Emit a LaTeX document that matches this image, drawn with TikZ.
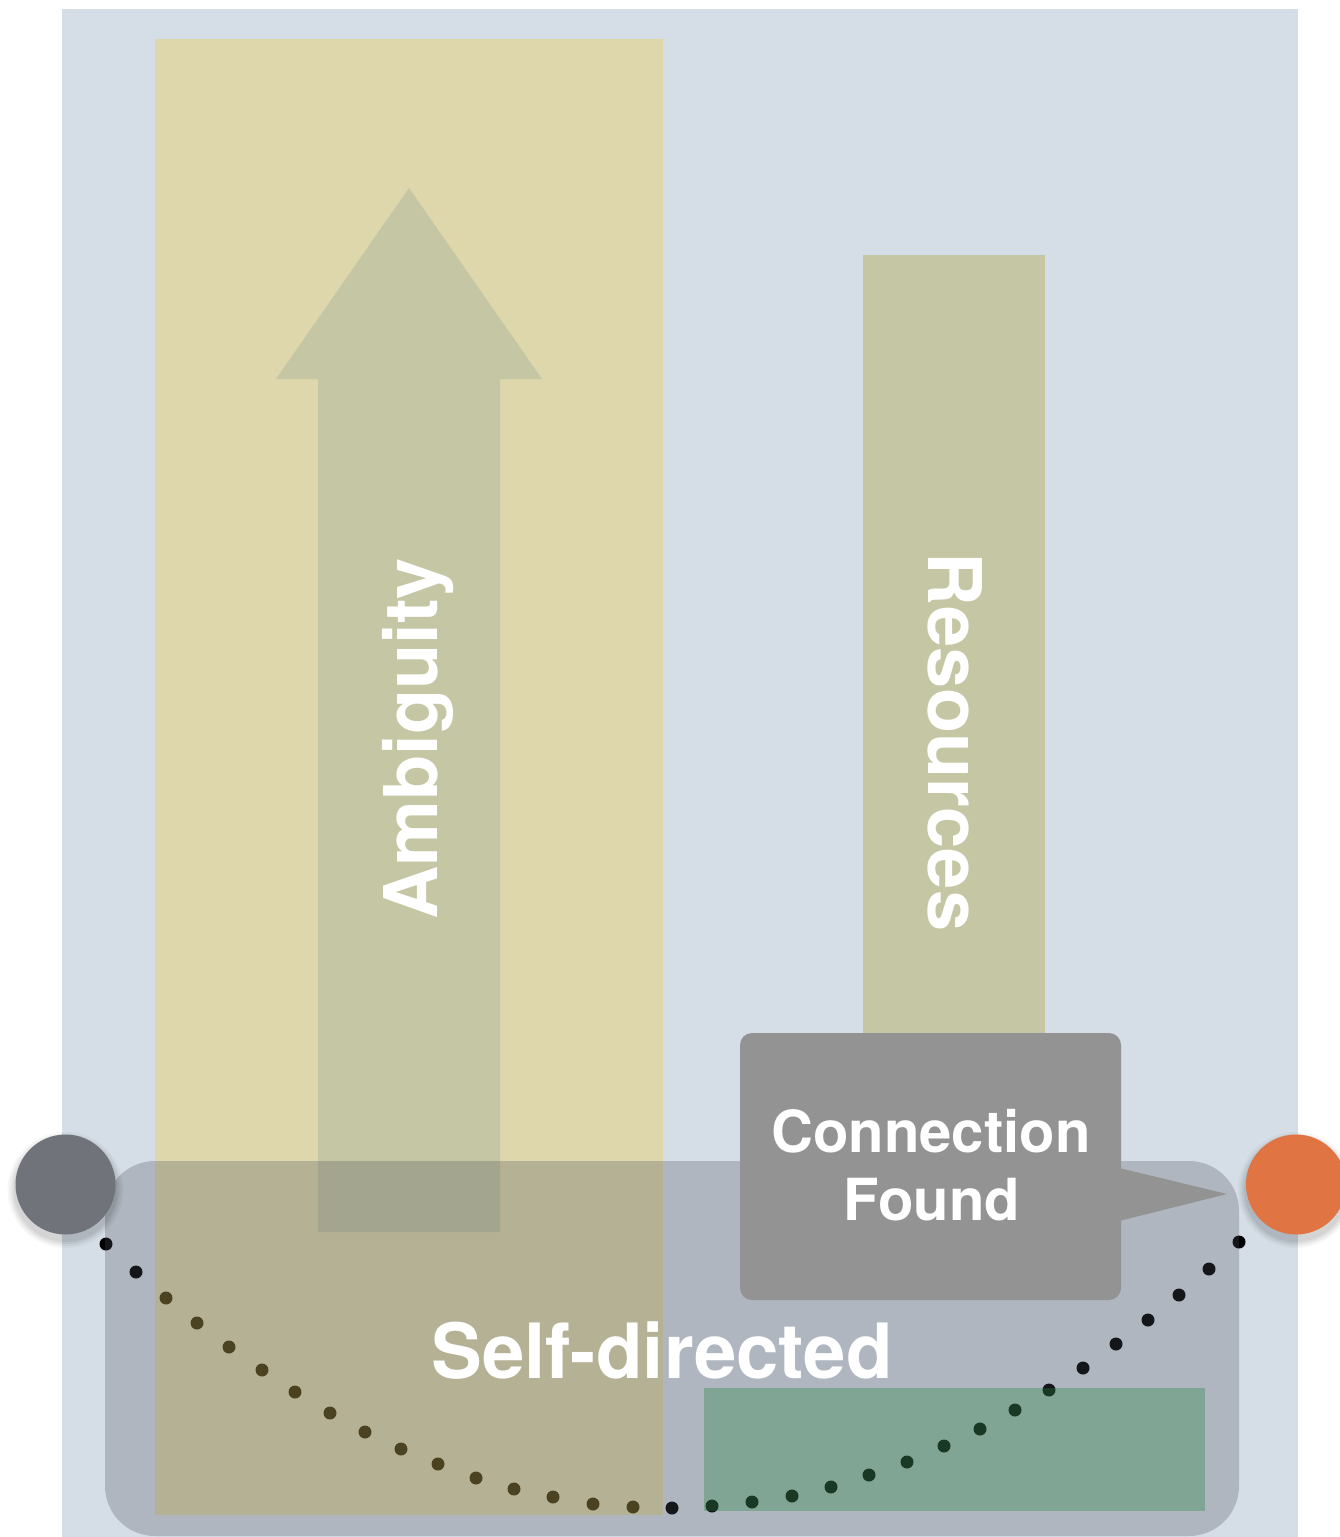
\documentclass[tikz,border=0pt]{standalone}
\usepackage{fontspec}
\setmainfont{TeX Gyre Heros}
\definecolor{panelblue}{RGB}{213,221,230}
\definecolor{ylw}{RGB}{243,204,40}
\definecolor{olivebar}{RGB}{197,198,164}
\definecolor{rrect}{RGB}{77,82,91}
\definecolor{grn}{RGB}{36,130,59}
\definecolor{calloutgray}{RGB}{147,147,147}
\definecolor{graydot}{RGB}{112,115,122}
\definecolor{orangedot}{RGB}{224,116,67}
\tikzset{
  bigtext/.style={text=white, inner sep=0pt, font=\bfseries\fontsize{74}{80}\selectfont},
  calltext/.style={text=white, inner sep=0pt, font=\bfseries\fontsize{58}{68}\selectfont},
  curvedot/.style={fill=black},
}
\begin{document}
\begin{tikzpicture}[x=1pt,y=-1pt]
\useasboundingbox (0,0) rectangle (1340,1537);
% background panel
\fill[panelblue] (62,9) rectangle (1298,1537);
% dotted curve
\foreach \px/\py in {106/1244,136/1272,166/1298,197/1323,229/1347,262/1370,295/1392,330/1413,365/1432,401/1449,438/1464,476/1478,514/1489,553/1497,593/1504,633/1507,672/1508,712/1506,752/1502,792/1496,831/1487,869/1475,907/1462,944/1446,980/1429,1015/1410,1049/1390,1083/1368,1116/1344,1148/1320,1179/1295,1209/1269,1239/1242}
  \fill[curvedot] (\px,\py) circle[radius=6.5pt];
% yellow column
\fill[ylw, fill opacity=0.3] (155,39) rectangle (663,1515);
% arrow
\fill[olivebar] (318,1232) -- (318,379) -- (276,379) -- (409,188) -- (542,379) -- (500,379) -- (500,1232) -- cycle;
% resources bar
\fill[olivebar] (863,255) rectangle (1045,1045);
\node[bigtext, rotate=90, anchor=base] (amb) at (437,739) {Ambiguity};
\node[bigtext, rotate=-90, anchor=base] (res) at (928,742) {Resources};
% self-directed rounded area
\fill[rrect, fill opacity=0.28, rounded corners=50pt] (105,1161) rectangle (1239,1536);
% green rect
\fill[grn, fill opacity=0.325] (704,1388) rectangle (1205,1511);
% callout
\fill[calloutgray, rounded corners=12pt] (740,1033) rectangle (1121,1300);
\fill[calloutgray] (1115,1167) -- (1227,1194) -- (1115,1222) -- cycle;
\node[calltext, anchor=base] (conn) at (931,1152) {Connection};
\node[calltext, anchor=base] (found) at (932,1220) {Found};
\node[bigtext, font=\bfseries\fontsize{76.2}{80}\selectfont, anchor=base west] (self) at (431,1378) {Self-directed};
% circles with soft shadows
\foreach \cx/\col in {65.5/graydot, 1296/orangedot}{
  \foreach \r/\o in {58/0.03,56/0.04,54/0.05,52/0.06}
    \fill[black, fill opacity=\o] (\cx,1190) circle[radius=\r pt];
  \fill[\col] (\cx,1184.5) circle[radius=50pt];
}
\end{tikzpicture}
\end{document}
